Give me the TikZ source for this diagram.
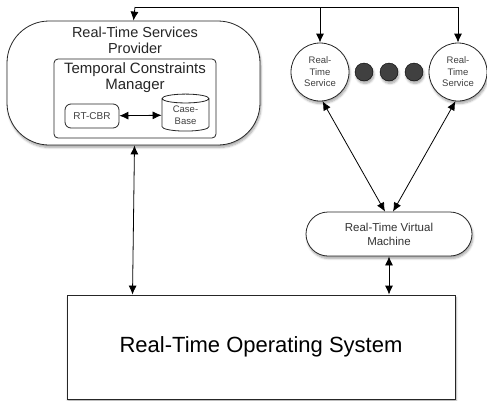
\documentclass[tikz,border=0pt]{standalone}
\usepackage{fontspec}
\setmainfont{Liberation Sans}
\usetikzlibrary{arrows.meta,shapes.geometric,shadows.blur}
\begin{document}
\begin{tikzpicture}[x=1pt,y=-1pt,
  shade/.style={blur shadow={shadow xshift=1pt,shadow yshift=-2.5pt,shadow opacity=35,shadow blur steps=6}},
  box/.style={draw=black!85,line width=0.8pt,fill=white,align=center,inner sep=0pt},
  tip/.tip={Latex[length=9pt,width=8pt]},
  arr/.style={line width=0.8pt,-tip},
  darr/.style={line width=0.8pt,tip-tip},
  svc/.style={box,shade,circle,minimum size=58pt,font=\fontsize{9.5}{11.5}\selectfont,text=black!75},
  dot/.style={circle,fill=black!75,draw=black,minimum size=18pt,inner sep=0pt,shade}]
\useasboundingbox (0,0) rectangle (487,400);

% operating system
\node[box,shade,minimum width=388pt,minimum height=104pt,rounded corners=0pt,
      font=\fontsize{22}{25}\selectfont] (os) at (261,347) {Real-Time Operating System};

% services provider and its contents
\node[box,shade,minimum width=253pt,minimum height=124pt,rounded corners=42pt] (prov) at (133.5,83) {};
\node[font=\fontsize{14.5}{16}\selectfont,align=center,text=black!85] (provlbl) at (135,40) {Real-Time Services\\Provider};
\node[box,minimum width=162pt,minimum height=79pt,rounded corners=4pt] (tcm) at (135,98.5) {};
\node[font=\fontsize{15}{16.5}\selectfont,align=center,text=black!85] (tcmlbl) at (135,77.5) {Temporal Constraints\\Manager};
\node[box,minimum width=54pt,minimum height=24pt,rounded corners=6pt,
      font=\fontsize{10}{12}\selectfont,text=black!75] (cbr) at (92,116) {RT-CBR};
\node[draw=black!85,line width=0.8pt,fill=white,cylinder,shape border rotate=90,aspect=0.35,
      minimum width=47pt,minimum height=37pt,inner sep=0pt,align=center,
      font=\fontsize{9.5}{12}\selectfont,text=black!75] (cb) at (185.5,115) {Case-\\Base};
\draw[darr] (cbr) -- (cb);

% real-time services
\node[svc] (s1) at (320,72) {Real-\\Time\\Service};
\node[svc] (s2) at (458,72) {Real-\\Time\\Service};
\node[dot] (d1) at (364,72) {};
\node[dot] (d2) at (389,72) {};
\node[dot] (d3) at (414,72) {};

% virtual machine
\node[box,shade,minimum width=166pt,minimum height=44pt,rounded corners=22pt,
      font=\fontsize{11.5}{14}\selectfont,text=black!80] (vm) at (389,234) {Real-Time Virtual\\Machine};

% top bus
\coordinate (busL) at (135,7);
\coordinate (busR) at (458,7);
\draw[line width=0.8pt] (busL) -- (busR);
\draw[arr] (busL) -- (prov.north);
\draw[arr] (s1.north |- busL) -- (s1.north);
\draw[arr] (busR) -- (s2.north);

% remaining connectors
\draw[darr] (s1.-85) -- ([xshift=-4pt]vm.north);
\draw[darr] (s2.-95) -- ([xshift=4pt]vm.north);
\draw[darr] (vm.south) -- (vm.south |- os.north);
\draw[darr] ([xshift=1pt]prov.south) -- ([xshift=-1pt]prov.south |- os.north);
\end{tikzpicture}
\end{document}
